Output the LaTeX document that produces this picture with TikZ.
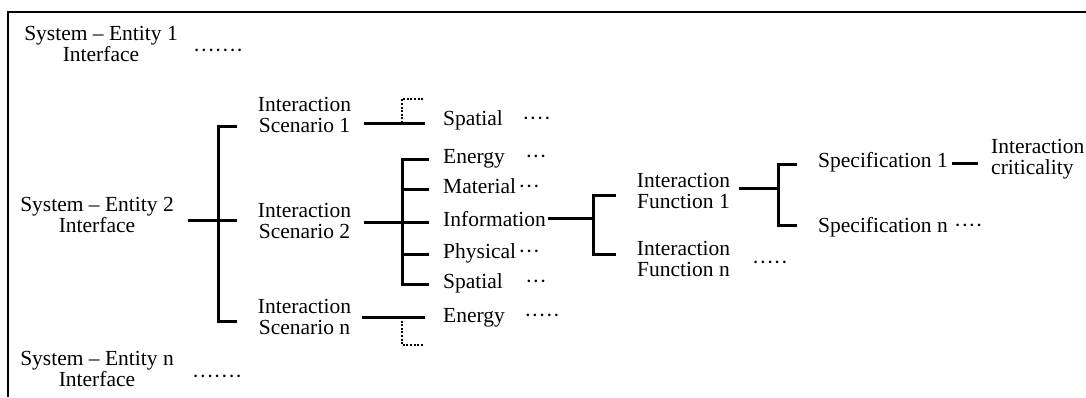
\documentclass[tikz,border=0pt]{standalone}
\usepackage{fontspec}
\setmainfont{Liberation Serif}
\usetikzlibrary{positioning}
\begin{document}
\begin{tikzpicture}[x=1pt, y=-1pt,
	every node/.style={inner sep=0pt, font=\fontsize{21.5}{21}\selectfont},
	caja/.style={align=center},
	rama/.style={line width=3pt},
	punteo/.style={line width=2pt, dash pattern=on 2pt off 1.6pt},
	marco/.style={line width=2pt}]
	\useasboundingbox (0,0) rectangle (1086,397);
	% Marco
		\draw[marco] (8,397) -- (8,12) -- (1086,12);

	% Interfaces sistema - entidad
		\node[caja] (ent1) at (101,44) {System – Entity 1\\Interface};
		\node[caja] (ent2) at (97,215) {System – Entity 2\\Interface};
		\node[caja] (entn) at (97,369) {System – Entity n\\Interface};
		\node[anchor=base west] (d1) at (193,57) {·······};
		\node[anchor=base west] (dn) at (192,383) {·······};

	% Escenarios de interaccion
		\node[caja] (sc1) at (304.5,115) {Interaction\\Scenario 1};
		\node[caja] (sc2) at (304.5,221) {Interaction\\Scenario 2};
		\node[caja] (scn) at (304.5,317) {Interaction\\Scenario n};

	% Tipos de interaccion
		\node[anchor=base west] (sp1) at (443,125) {Spatial};
		\node[anchor=base west] (en2) at (443,163) {Energy};
		\node[anchor=base west] (ma2) at (443,193) {Material};
		\node[anchor=base west] (in2) at (443,226) {Information};
		\node[anchor=base west] (ph2) at (443,258) {Physical};
		\node[anchor=base west] (sp2) at (443,288) {Spatial};
		\node[anchor=base west] (enn) at (443,322) {Energy};
		\node[base right=19pt of sp1] (dsp1) {····};
		\node[base right=20pt of en2] (den2) {···};
		\node[base right=2pt of ma2] (dma2) {···};
		\node[base right=2pt of ph2] (dph2) {···};
		\node[base right=22pt of sp2] (dsp2) {···};
		\node[base right=19pt of enn] (denn) {·····};

	% Funciones de interaccion
		\node[caja] (fn1) at (683.5,191) {Interaction\\Function 1};
		\node[caja] (fnn) at (683.5,259) {Interaction\\Function n};
		\node[anchor=base west] (dfnn) at (752,269) {·····};

	% Especificaciones
		\node[anchor=base west] (spec1) at (818,167) {Specification 1};
		\node[anchor=base west] (specn) at (818,232) {Specification n};
		\node[base right=6pt of specn] (dspecn) {····};
		\node[anchor=west, align=left] (crit) at (991,159.5) {Interaction\\criticality};

	% Ramas
		\coordinate (k1) at (218,220);
		\draw[rama] ([xshift=14]ent2.east |- k1) -- ([xshift=-21]sc2.west |- k1);
		\draw[rama] ([xshift=-21,yshift=-11]sc1.west) -| (k1) |- ([xshift=-21,yshift=-4]scn.west);

		\coordinate (b1) at (402,123);
		\draw[rama] ([xshift=13]sc1.east |- b1) -- ([xshift=-18]sp1.west |- b1);
		\draw[punteo] (b1) -- ++(0,-24) -- ++(21,0);

		\coordinate (k2) at (402,222);
		\draw[rama] ([xshift=13]sc2.east |- k2) -- ([xshift=-14]in2.west |- k2);
		\draw[rama] ([xshift=-14,yshift=4]en2.base west) -| (k2) |- ([xshift=-14,yshift=4]sp2.base west);
		\draw[rama] ([xshift=-14,yshift=4]ma2.base west) -- ++(-27,0);
		\draw[rama] ([xshift=-14,yshift=4]ph2.base west) -- ++(-27,0);

		\coordinate (b2) at (402,317);
		\draw[rama] ([xshift=11]scn.east |- b2) -- ([xshift=-18]enn.west |- b2);
		\draw[punteo] (b2) -- ++(0,28) -- ++(21,0);

		\coordinate (k3) at (593,218);
		\draw[rama] ([xshift=2]in2.east |- k3) -- (k3);
		\draw[rama] ([xshift=-21,yshift=-4]fn1.west) -| (k3) |- ([xshift=-21,yshift=5]fnn.west);

		\coordinate (k4) at (778,188);
		\draw[rama] ([xshift=9]fn1.east |- k4) -- (k4);
		\draw[rama] ([xshift=-21,yshift=3]spec1.base west) -| (k4) |- ([xshift=-21,yshift=7]specn.base west);
		\draw[rama] ([xshift=4,yshift=4]spec1.base east) -- ([xshift=-13,yshift=4]crit.west |- spec1.base east);
\end{tikzpicture}
\end{document}
